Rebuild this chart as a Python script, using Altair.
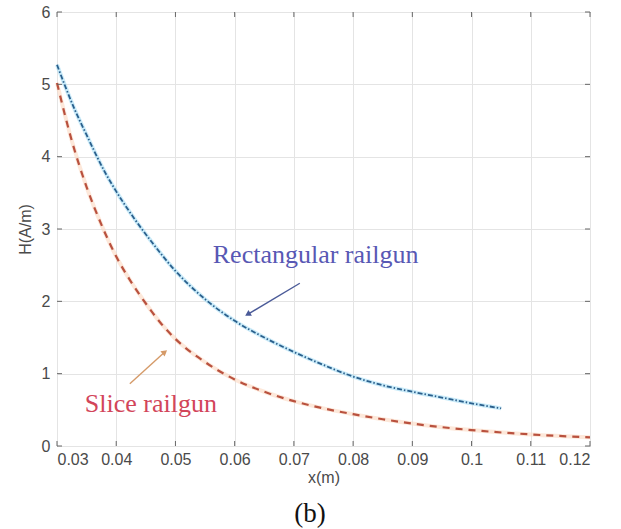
import altair as alt
import pandas as pd

# Field strength along x for the two railgun geometries
rect_x = [0.030, 0.033, 0.035, 0.038, 0.040, 0.043, 0.046, 0.050, 0.055, 0.060,
          0.065, 0.070, 0.075, 0.080, 0.085, 0.090, 0.095, 0.100, 0.105]
rect_h = [5.27, 4.65, 4.30, 3.80, 3.52, 3.15, 2.82, 2.42, 2.03, 1.73,
          1.50, 1.30, 1.12, 0.96, 0.84, 0.75, 0.67, 0.59, 0.52]

slice_x = [0.030, 0.0325, 0.035, 0.0375, 0.040, 0.0425, 0.045, 0.0475, 0.050, 0.055,
           0.060, 0.065, 0.070, 0.075, 0.080, 0.085, 0.090, 0.095, 0.100, 0.110, 0.120]
slice_h = [5.02, 4.22, 3.58, 3.06, 2.62, 2.27, 1.97, 1.70, 1.48, 1.16,
           0.92, 0.75, 0.62, 0.52, 0.44, 0.37, 0.31, 0.26, 0.22, 0.16, 0.12]

x_ticks = [0.03, 0.04, 0.05, 0.06, 0.07, 0.08, 0.09, 0.10, 0.11, 0.12]
y_ticks = [0, 1, 2, 3, 4, 5, 6]

# Annotation labels and arrows (data coordinates)
label_text = ["Rectangular railgun", "Slice railgun"]
label_x = [0.0563, 0.0347]
label_y = [2.53, 0.47]
label_color = ["#5858b4", "#d2455a"]

rect_arrow_x = [0.0710, 0.0622]
rect_arrow_y = [2.25, 1.82]
slice_arrow_x = [0.0423, 0.0482]
slice_arrow_y = [0.86, 1.30]

W, H = 533, 434
XMIN, XMAX, YMIN, YMAX = 0.03, 0.12, 0, 6

xs = alt.Scale(domain=[XMIN, XMAX], nice=False, zero=False)
ys = alt.Scale(domain=[YMIN, YMAX], nice=False, zero=False)

rect_df = pd.DataFrame({"x": rect_x, "h": rect_h})
slice_df = pd.DataFrame({"x": slice_x, "h": slice_h})

x_enc = alt.X("x:Q", scale=xs,
              axis=alt.Axis(values=x_ticks, format="~g", title="x(m)", grid=True))
y_enc = alt.Y("h:Q", scale=ys,
              axis=alt.Axis(values=y_ticks, format="~g", title="H(A/m)", grid=True))

rect_glow = alt.Chart(rect_df).mark_line(
    color="#a6def5", strokeWidth=4, opacity=0.6, interpolate="monotone"
).encode(x=x_enc, y=y_enc)

rect_line = alt.Chart(rect_df).mark_line(
    color="#2a5f8c", strokeWidth=1.8, strokeDash=[5, 2, 1.5, 2], interpolate="monotone"
).encode(x="x:Q", y="h:Q")

slice_glow = alt.Chart(slice_df).mark_line(
    color="#fbd6bb", strokeWidth=4, opacity=0.55, interpolate="monotone"
).encode(x="x:Q", y="h:Q")

slice_line = alt.Chart(slice_df).mark_line(
    color="#b9513e", strokeWidth=2.2, strokeDash=[7, 6], interpolate="monotone"
).encode(x="x:Q", y="h:Q")

labels_df = pd.DataFrame({"x": label_x, "h": label_y, "t": label_text, "c": label_color})
labels = alt.Chart(labels_df).mark_text(
    font="Liberation Serif", fontSize=26, align="left", baseline="alphabetic"
).encode(x="x:Q", y="h:Q", text="t:N", color=alt.Color("c:N", scale=None))

def arrow(xv, yv, color, angle):
    df = pd.DataFrame({"x": xv, "h": yv, "o": [0, 1]})
    shaft = alt.Chart(df).mark_line(color=color, strokeWidth=1.4).encode(
        x="x:Q", y="h:Q", order="o:Q")
    head = alt.Chart(df.iloc[[1]]).mark_point(
        shape="triangle-up", filled=True, color=color, size=45, angle=angle, opacity=1
    ).encode(x="x:Q", y="h:Q")
    return shaft + head

rect_arrow = arrow(rect_arrow_x, rect_arrow_y, "#4a5a98", 239)
slice_arrow = arrow(slice_arrow_x, slice_arrow_y, "#d59a68", 51)

# Inward tick marks on all four sides of the box
xt = pd.DataFrame({"x": x_ticks})
yt = pd.DataFrame({"h": y_ticks})
tick_color = "#666666"
xt_bottom = alt.Chart(xt).mark_rule(color=tick_color).encode(
    x="x:Q", y=alt.value(H), y2=alt.value(H - 5))
xt_top = alt.Chart(xt).mark_rule(color=tick_color).encode(
    x="x:Q", y=alt.value(0), y2=alt.value(5))
yt_left = alt.Chart(yt).mark_rule(color=tick_color).encode(
    y="h:Q", x=alt.value(0), x2=alt.value(5))
yt_right = alt.Chart(yt).mark_rule(color=tick_color).encode(
    y="h:Q", x=alt.value(W), x2=alt.value(W - 5))

caption = alt.Chart(pd.DataFrame({"t": ["(b)"]})).mark_text(
    font="Liberation Serif", fontSize=27, color="#111111",
    align="center", baseline="alphabetic"
).encode(x=alt.value(253), y=alt.value(510), text="t:N")

chart = alt.layer(
    rect_glow, slice_glow, slice_line, rect_line,
    xt_bottom, xt_top, yt_left, yt_right,
    labels, rect_arrow, slice_arrow, caption
).properties(
    width=W, height=H,
    autosize=alt.AutoSizeParams(type="none"),
    padding={"left": 57, "top": 12, "right": 31, "bottom": 83},
    background="white",
).configure_view(
    stroke="#666666", strokeWidth=1
).configure_axis(
    domain=False, ticks=False,
    gridColor="#e4e4e4", gridWidth=1,
    labelFont="Liberation Sans", labelFontSize=16, labelColor="#4a4a4a",
    titleFont="Liberation Sans", titleFontSize=16, titleColor="#4a4a4a",
    titleFontWeight="normal",
).configure_axisX(
    labelPadding=5, titlePadding=2
).configure_axisY(
    labelPadding=7, titlePadding=8
)

chart.save("out.html", embed_options={"renderer": "svg", "actions": False})
